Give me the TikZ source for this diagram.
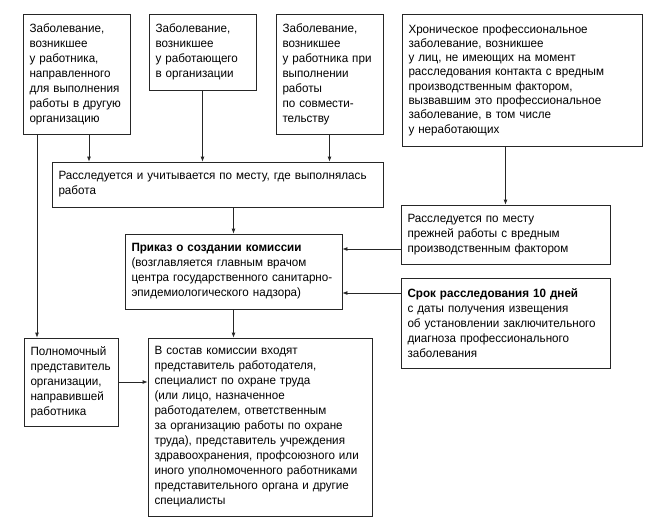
\documentclass[tikz,border=0pt]{standalone}
\usepackage{fontspec}
\setmainfont[FakeStretch=0.97]{Liberation Sans}
\usepackage{tikz}
\usetikzlibrary{arrows.meta}

\tikzset{
  box/.style={draw=black!85,line width=0.8pt,rectangle,inner xsep=6.5pt,inner ysep=0pt,
    align=left,font=\fontsize{12}{15}\selectfont,text=black},
  arr/.style={draw=black!85,line width=0.8pt,-{Latex[length=5pt,width=4pt]}},
  ln/.style={draw=black!85,line width=0.8pt}
}

\begin{document}
\begin{tikzpicture}[x=1pt,y=-1pt]
  \useasboundingbox (0,0) rectangle (647,520);

  % top row
  \node[box,text width=94pt,minimum height=120pt] (zA) at (76.5,74)
    {Заболевание,\\возникшее\\у работника,\\направленного\\для выполнения\\работы в другую\\организацию};
  \node[box,text width=94pt,minimum height=76pt] (zB) at (202.5,52)
    {Заболевание,\\возникшее\\у работающего\\в организации};
  \node[box,text width=94pt,minimum height=120pt] (zC) at (329.5,74)
    {Заболевание,\\возникшее\\у работника при\\выполнении\\работы\\по совмести-\\тельству};
  \node[box,text width=227pt,minimum height=132pt,font=\fontsize{12}{14.3}\selectfont] (zD) at (522,80)
    {Хроническое профессиональное\\заболевание, возникшее\\у лиц, не имеющих на момент\\расследования контакта с вредным\\производственным фактором,\\вызвавшим это профессиональное\\заболевание, в том числе\\у неработающих};

  % middle
  \node[box,text width=318pt,minimum height=45pt] (zE) at (217.5,184.5)
    {Расследуется и учитывается по месту, где выполнялась\\работа};
  \node[box,text width=196pt,minimum height=59pt] (zF) at (505.5,234.5)
    {Расследуется по месту\\прежней работы с вредным\\производственным фактором};
  \node[box,text width=204pt,minimum height=75pt] (zP) at (233.5,271.5)
    {\textbf{Приказ о создании комиссии}\\(возглавляется главным врачом\\центра государственного санитарно-\\эпидемиологического надзора)};
  \node[box,text width=196pt,minimum height=90pt] (zG) at (505.5,323)
    {\textbf{Срок расследования 10 дней}\\с даты получения извещения\\об установлении заключительного\\диагноза профессионального\\заболевания};

  % bottom
  \node[box,text width=81pt,minimum height=88pt] (zH) at (71,382)
    {Полномочный\\представитель\\организации,\\направившей\\работника};
  \node[box,text width=211pt,minimum height=178pt] (zI) at (260,427)
    {В состав комиссии входят\\представитель работодателя,\\специалист по охране труда\\(или лицо, назначенное\\работодателем, ответственным\\за организацию работы по охране\\труда), представитель учреждения\\здравоохранения, профсоюзного или\\иного уполномоченного работниками\\представительного органа и другие\\специалисты};

  \coordinate (cL) at (37,0);
  \coordinate (cA) at (89,0);
  \coordinate (rF) at (0,249);
  \coordinate (rG) at (0,293);

  \draw[arr] (zA.south -| cL) -- (zH.north -| cL);
  \draw[arr] (zA.south -| cA) -- (zE.north -| cA);
  \draw[arr] (zB.south) -- (zB.south |- zE.north);
  \draw[arr] (zC.south) -- (zC.south |- zE.north);
  \draw[arr] (zD.south -| zF.north) -- (zF.north);
  \draw[arr] (zE.south -| zP.north) -- (zP.north);
  \draw[arr] (zF.west |- rF) -- (zP.east |- rF);
  \draw[arr] (zG.west |- rG) -- (zP.east |- rG);
  \draw[arr] (zP.south) -- (zP.south |- zI.north);
  \draw[arr] (zH.east) -- (zH.east -| zI.west);
\end{tikzpicture}
\end{document}
